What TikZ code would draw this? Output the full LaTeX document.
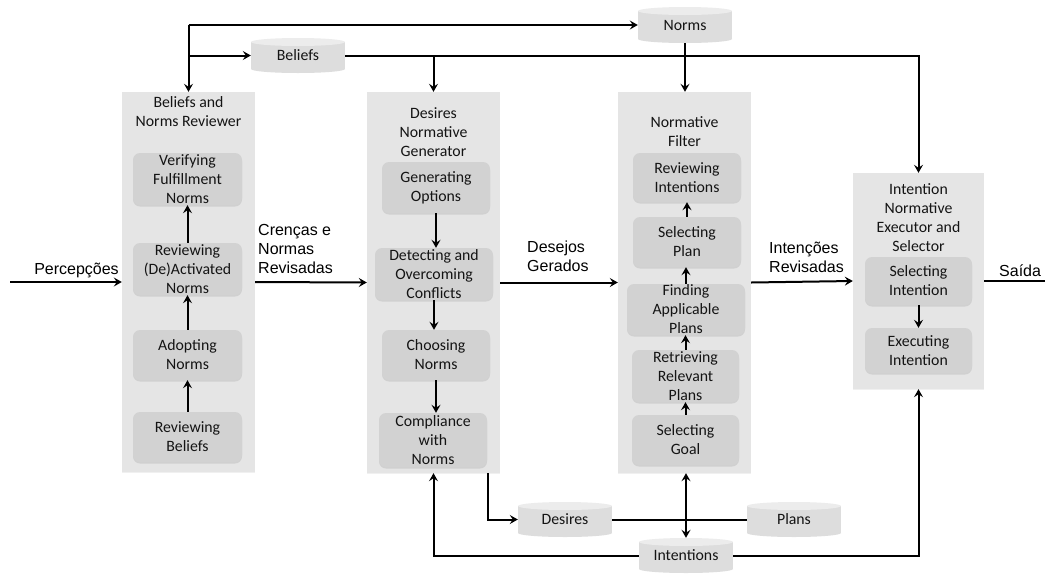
\documentclass[tikz,border=0pt]{standalone}
\usepackage{fontspec}
\newfontfamily\carlito{Carlito}
\newfontfamily\arialf{Liberation Sans}
\usetikzlibrary{arrows.meta,shadows}
\definecolor{outerfill}{RGB}{229,229,229}
\definecolor{innerfill}{RGB}{210,210,210}
\definecolor{cylbody}{RGB}{221,221,221}
\definecolor{cyltop}{RGB}{236,236,236}
\definecolor{txt}{RGB}{20,20,20}
\begin{document}
\begin{tikzpicture}[x=1pt,y=-1pt,
  outerbox/.style={rectangle, fill=outerfill, inner sep=0pt,
    drop shadow={shadow xshift=0pt, shadow yshift=-1.2pt, opacity=0.12}},
  innerbox/.style={rectangle, rounded corners=7pt, fill=innerfill, inner sep=0pt,
    align=center, font=\carlito\fontsize{15.8}{19}\selectfont, text=txt,
    drop shadow={shadow xshift=0pt, shadow yshift=-1.5pt, opacity=0.2}},
  boxtitle/.style={anchor=north, inner sep=0pt, align=center,
    font=\carlito\fontsize{15.8}{19}\selectfont, text=txt},
  flowlabel/.style={inner sep=0pt, align=left, font=\arialf\fontsize{16}{19}\selectfont},
  cyl/.style={rectangle, fill=white, inner sep=0pt, minimum width=94pt, minimum height=35pt,
    font=\carlito\fontsize{15.8}{19}\selectfont, text=txt,
    path picture={
      \fill[cylbody] ([yshift=-4pt]path picture bounding box.north west) rectangle ([yshift=4pt]path picture bounding box.south east);
      \fill[cylbody] ([yshift=4pt]path picture bounding box.south) ellipse [x radius=47pt, y radius=4pt];
      \fill[cyltop] ([yshift=-4pt]path picture bounding box.north) ellipse [x radius=47pt, y radius=4pt];
    }},
  conn/.style={line width=2pt, -{Stealth[length=8pt,width=9pt,inset=3pt]}},
  plainline/.style={line width=2pt},
  dblarrow/.style={line width=2.8pt, {Stealth[length=8pt,width=9pt,inset=3pt]}-{Stealth[length=8pt,width=9pt,inset=3pt]}}
]
\useasboundingbox (0,0) rectangle (1045,574);

% outer boxes
\node[outerbox, minimum width=133pt, minimum height=380pt] (b1) at (188.5,282) {};
\node[outerbox, minimum width=133pt, minimum height=381pt] (b2) at (433.5,282.5) {};
\node[outerbox, minimum width=133pt, minimum height=381pt] (b3) at (684.5,282.5) {};
\node[outerbox, minimum width=131pt, minimum height=216pt] (b4) at (918.5,281) {};

% titles
\node[boxtitle] (b1t) at (188.5,96) {Beliefs and\\Norms Reviewer};
\node[boxtitle] (b2t) at (433.5,107) {Desires\\Normative\\Generator};
\node[boxtitle] (b3t) at (684.5,116.5) {Normative\\Filter};
\node[boxtitle] (b4t) at (918.5,183.5) {Intention\\Normative\\Executor and\\Selector};

% box 1 inner
\node[innerbox, minimum width=109pt, minimum height=52pt] (v1) at (187.5,179) {Verifying\\Fulfillment\\Norms};
\node[innerbox, minimum width=109pt, minimum height=52pt] (v2) at (187.5,269) {Reviewing\\(De)Activated\\Norms};
\node[innerbox, minimum width=109pt, minimum height=50pt] (v3) at (187.5,355) {Adopting\\Norms};
\node[innerbox, minimum width=109pt, minimum height=50pt] (v4) at (187.5,437) {Reviewing\\Beliefs};

% box 2 inner
\node[innerbox, minimum width=108pt, minimum height=51pt] (d1) at (436,187.5) {Generating\\Options};
\node[innerbox, minimum width=118pt, minimum height=52pt] (d2) at (434,274) {Detecting and\\Overcoming\\Conflicts};
\node[innerbox, minimum width=108pt, minimum height=50pt] (d3) at (436,355) {Choosing\\Norms};
\node[innerbox, minimum width=108pt, minimum height=54pt] (d4) at (433,440) {Compliance\\with\\Norms};

% box 3 inner
\node[innerbox, minimum width=108pt, minimum height=49pt] (f1) at (687,177.5) {Reviewing\\Intentions};
\node[innerbox, minimum width=108pt, minimum height=50pt] (f2) at (687,242) {Selecting\\Plan};
\node[innerbox, minimum width=118pt, minimum height=51pt] (f3) at (686,309.5) {Finding\\Applicable\\Plans};
\node[innerbox, minimum width=107pt, minimum height=52pt] (f4) at (685.5,376) {Retrieving\\Relevant\\Plans};
\node[innerbox, minimum width=107pt, minimum height=50pt] (f5) at (685.5,440) {Selecting\\Goal};

% box 4 inner
\node[innerbox, minimum width=107pt, minimum height=48pt] (e1) at (918.5,281) {Selecting\\Intention};
\node[innerbox, minimum width=107pt, minimum height=45pt] (e2) at (918.5,350.5) {Executing\\Intention};

% data stores
\node[cyl, minimum height=36pt] (norms) at (685,25) {Norms};
\node[cyl] (beliefs) at (298,55.5) {Beliefs};
\node[cyl] (desires) at (565,519.5) {Desires};
\node[cyl] (plans) at (794,519.5) {Plans};
\node[cyl] (intentions) at (686,555.5) {Intentions};

% flow labels
\node[flowlabel, anchor=base] (lperc) at (76.5,274) {Percepções};
\node[flowlabel, anchor=north west] (lcren) at (258,224.4) {Crenças e\\Normas\\Revisadas};
\node[flowlabel, anchor=north west] (ldes) at (527,240.5) {Desejos\\Gerados};
\node[flowlabel, anchor=north west] (lint) at (769,242.3) {Intenções\\Revisadas};
\node[flowlabel, anchor=base west] (lsai) at (999,276) {Saída};

% coordinates
\coordinate (inpt) at (10,282);
\coordinate (outpt) at (1045,281);
\coordinate (tl) at (188.5,25);
\coordinate (b2out) at (488,473);

% main flow
\draw[conn] (inpt) -- (b1.west);
\draw[conn] (b1.east) -- (b2.west);
\draw[conn] (b2.east) -- (b3.west);
\draw[conn] (b3.east) -- (b4.west);
\draw[plainline] (b4.east) -- (outpt);

% inner arrows
\draw[conn] (v4.north) -- (v3.south);
\draw[conn] (v3.north) -- (v2.south);
\draw[conn] (v2.north) -- (v1.south);
\draw[conn] (d1.south) -- (d1.south |- d2.north);
\draw[conn] (d2.south) -- (d2.south |- d3.north);
\draw[conn] (d3.south) -- (d3.south |- d4.north);
\draw[conn] (f5.north) -- (f5.north |- f4.south);
\draw[conn] (f4.north) -- (f4.north |- f3.south);
\draw[conn] (f3.north) -- (f3.north |- f2.south);
\draw[conn] (f2.north) -- (f2.north |- f1.south);
\draw[conn] (e1.south) -- (e2.north);

% top connectors
\draw[conn] (tl) -- (norms.west);
\draw[conn] (tl) -- (b1.north);
\draw[conn] (b1.north |- beliefs.west) -- (beliefs.west);
\draw[conn] (beliefs.east) -| (b4.north);
\draw[conn] (b2.north |- beliefs.east) -- (b2.north);
\draw[conn] (norms.south) -- (norms.south |- b3.north);

% bottom connectors
\draw[conn] (b2out) |- (desires.west);
\draw[plainline] (desires.east) -- (plans.west);
\draw[dblarrow] (intentions.north |- b3.south) -- (intentions.north);
\draw[conn] (intentions.west) -| (b2.south);
\draw[conn] (intentions.east) -| (b4.south);
\end{tikzpicture}
\end{document}
